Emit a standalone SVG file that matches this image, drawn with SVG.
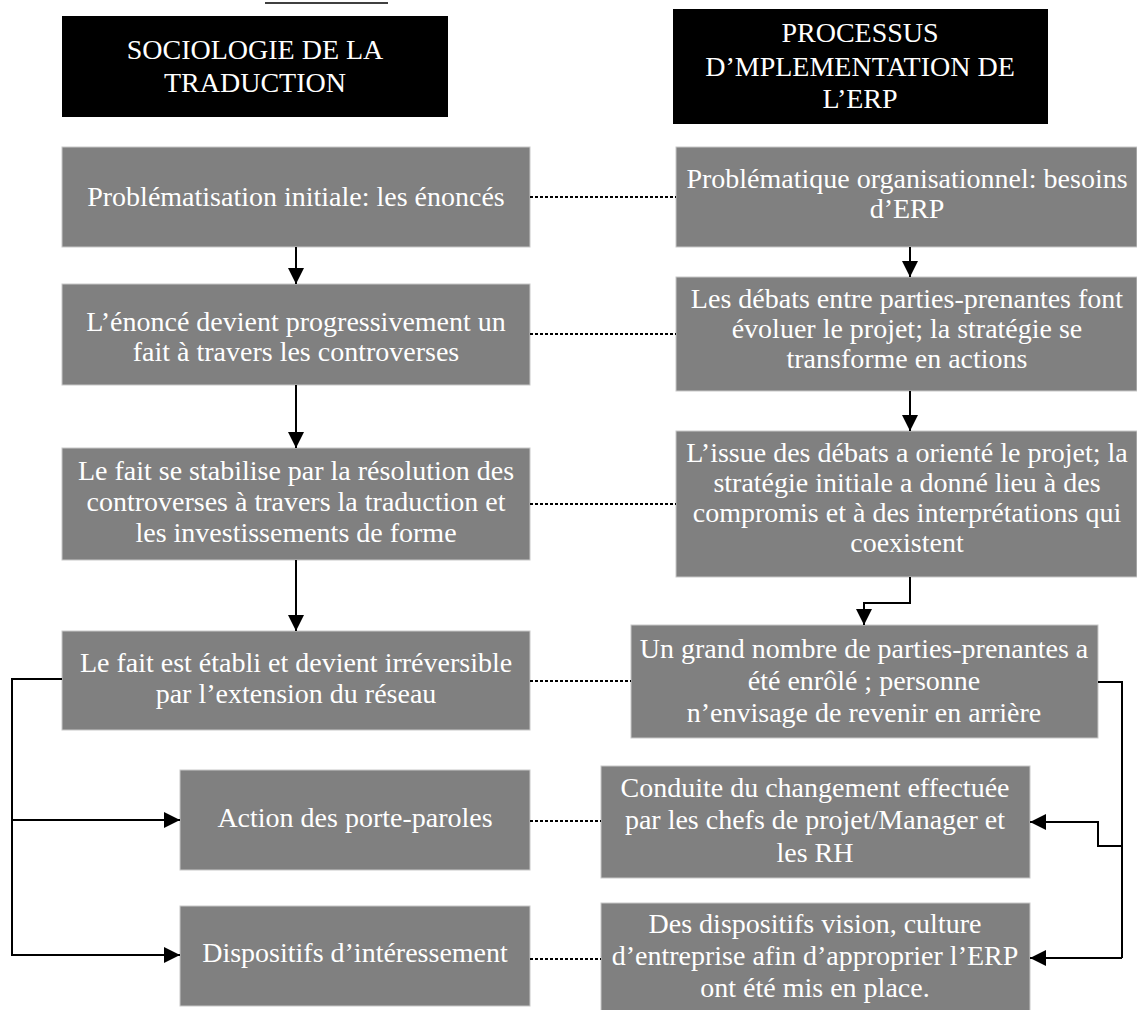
<svg xmlns="http://www.w3.org/2000/svg" width="1137" height="1010" viewBox="0 0 1137 1010">
<style>
.hdr{fill:#000}
.box{fill:#808080;stroke:#c8c8c8;stroke-width:1}
.ht{font-family:"Liberation Serif","Times New Roman",serif;font-size:28px;fill:#fff;text-anchor:middle}
.t{font-family:"Liberation Serif","Times New Roman",serif;font-size:28px;fill:#fff;text-anchor:middle}
.dot{stroke:#000;stroke-width:2;stroke-dasharray:3 2;fill:none}
.ar{stroke:#000;stroke-width:2;fill:none;marker-end:url(#ah)}
.ln{stroke:#000;stroke-width:2;fill:none}
</style>
<defs>
<marker id="ah" markerUnits="userSpaceOnUse" markerWidth="16" markerHeight="16" refX="16" refY="8" orient="auto">
<path d="M0,0 L16,8 L0,16 Z" fill="#000"/>
</marker>
</defs>
<rect width="1137" height="1010" fill="#fff"/>
<line x1="265" y1="3" x2="388" y2="3" stroke="#000" stroke-width="1.5"/>

<g id="hdr-left">
<rect class="hdr" x="62" y="16" width="386" height="101"/>
<text class="ht" x="255" y="59">SOCIOLOGIE DE LA</text>
<text class="ht" x="255" y="92">TRADUCTION</text>
</g>
<g id="hdr-right">
<rect class="hdr" x="673" y="9" width="375" height="115"/>
<text class="ht" x="860" y="42">PROCESSUS</text>
<text class="ht" x="860" y="76">D’MPLEMENTATION DE</text>
<text class="ht" x="860" y="108">L’ERP</text>
</g>

<g id="l1">
<rect class="box" x="62" y="147" width="468" height="100"/>
<text class="t" x="296" y="206">Problématisation initiale: les énoncés</text>
</g>
<g id="l2">
<rect class="box" x="62" y="284" width="468" height="101"/>
<text class="t" x="296" y="331">L’énoncé devient progressivement un</text>
<text class="t" x="296" y="361">fait à travers les controverses</text>
</g>
<g id="l3">
<rect class="box" x="62" y="448" width="468" height="112"/>
<text class="t" x="296" y="480">Le fait se stabilise par la résolution des</text>
<text class="t" x="296" y="511">controverses à travers la traduction et</text>
<text class="t" x="296" y="542">les investissements de forme</text>
</g>
<g id="l4">
<rect class="box" x="62" y="631" width="468" height="99"/>
<text class="t" x="296" y="672">Le fait est établi et devient irréversible</text>
<text class="t" x="296" y="703">par l’extension du réseau</text>
</g>
<g id="l5">
<rect class="box" x="180" y="770" width="350" height="100"/>
<text class="t" x="355" y="827">Action des porte-paroles</text>
</g>
<g id="l6">
<rect class="box" x="180" y="906" width="350" height="100"/>
<text class="t" x="355" y="962">Dispositifs d’intéressement</text>
</g>

<g id="r1">
<rect class="box" x="676" y="147" width="461" height="100"/>
<text class="t" x="907" y="188">Problématique organisationnel: besoins</text>
<text class="t" x="907" y="218">d’ERP</text>
</g>
<g id="r2">
<rect class="box" x="676" y="277" width="461" height="114"/>
<text class="t" x="907" y="308">Les débats entre parties-prenantes font</text>
<text class="t" x="907" y="338">évoluer le projet; la stratégie se</text>
<text class="t" x="907" y="368">transforme en actions</text>
</g>
<g id="r3">
<rect class="box" x="676" y="431" width="461" height="146"/>
<text class="t" x="907" y="462">L’issue des débats a orienté le projet; la</text>
<text class="t" x="907" y="492">stratégie initiale a donné lieu à des</text>
<text class="t" x="907" y="522">compromis et à des interprétations qui</text>
<text class="t" x="907" y="552">coexistent</text>
</g>
<g id="r4">
<rect class="box" x="631" y="625" width="467" height="113"/>
<text class="t" x="864" y="658">Un grand nombre de parties-prenantes a</text>
<text class="t" x="864" y="690">été enrôlé ; personne</text>
<text class="t" x="864" y="722">n’envisage de revenir en arrière</text>
</g>
<g id="r5">
<rect class="box" x="601" y="766" width="429" height="112"/>
<text class="t" x="815" y="797">Conduite du changement effectuée</text>
<text class="t" x="815" y="829">par les chefs de projet/Manager et</text>
<text class="t" x="815" y="862">les RH</text>
</g>
<g id="r6">
<rect class="box" x="601" y="903" width="429" height="112"/>
<text class="t" x="815" y="933">Des dispositifs vision, culture</text>
<text class="t" x="815" y="965">d’entreprise afin d’approprier l’ERP</text>
<text class="t" x="815" y="997">ont été mis en place.</text>
</g>

<g id="connectors">
<line class="dot" x1="530" y1="197" x2="676" y2="197"/>
<line class="dot" x1="530" y1="334" x2="676" y2="334"/>
<line class="dot" x1="530" y1="504" x2="676" y2="504"/>
<line class="dot" x1="530" y1="681" x2="631" y2="681"/>
<line class="dot" x1="530" y1="821" x2="601" y2="821"/>
<line class="dot" x1="530" y1="959" x2="601" y2="959"/>
<line class="ar" x1="296" y1="247" x2="296" y2="284"/>
<line class="ar" x1="296" y1="385" x2="296" y2="448"/>
<line class="ar" x1="296" y1="560" x2="296" y2="631"/>
<line class="ar" x1="910" y1="247" x2="910" y2="277"/>
<line class="ar" x1="910" y1="391" x2="910" y2="431"/>
<path class="ar" d="M910,577 V603 H864 V625"/>
<path class="ln" d="M62,679 H12 V956"/>
<path class="ar" d="M12,820 H180"/>
<path class="ar" d="M12,955 H180"/>
<path class="ln" d="M1098,682 H1122 V958"/>
<path class="ar" d="M1122,958 H1030"/>
<path class="ar" d="M1122,846 H1098 V822 H1030"/>
</g>
</svg>
